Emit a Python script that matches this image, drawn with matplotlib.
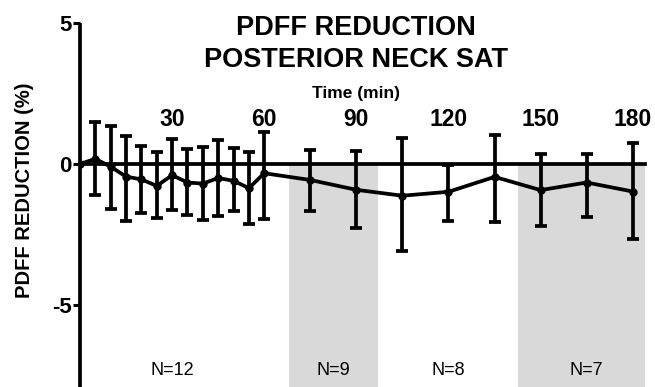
import numpy as np
import matplotlib
matplotlib.use("Agg")
import matplotlib.pyplot as plt

plt.rcParams['font.family'] = ['Liberation Sans', 'DejaVu Sans']

# time points (min) and PDFF reduction (%)
times = [0, 5, 10, 15, 20, 25, 30, 35, 40, 45, 50, 55, 60,
         75, 90, 105, 120, 135, 150, 165, 180]
mean = [0.0, 0.18, -0.10, -0.45, -0.55, -0.78, -0.40, -0.66, -0.70, -0.50, -0.60, -0.86, -0.33,
        -0.57, -0.92, -1.13, -0.99, -0.46, -0.93, -0.66, -0.98]
upper = [0.0, 1.50, 1.35, 0.99, 0.64, 0.43, 0.87, 0.52, 0.60, 0.84, 0.56, 0.44, 1.15,
         0.48, 0.46, 0.91, -0.03, 1.03, 0.37, 0.37, 0.73]
lower = [0.0, -1.11, -1.60, -2.02, -1.75, -1.93, -1.64, -1.82, -2.00, -1.84, -1.69, -2.12, -1.97,
         -1.67, -2.28, -3.11, -2.02, -2.08, -2.20, -1.87, -2.68]

# shaded time windows and group sizes
shade_spans = [(68, 97), (142.5, 184)]
n_labels = ["N=12", "N=9", "N=8", "N=7"]
n_pos = [30, 82.5, 120, 165]

xticks = [30, 60, 90, 120, 150, 180]
yticks = [5, 0, -5]

t = np.array(times); m = np.array(mean)
up = np.array(upper); lo = np.array(lower)

fig = plt.figure(figsize=(6.55, 3.87), dpi=100)
ax = fig.add_axes([80 / 655, 0, 565 / 655, 1 - 23.3 / 387])
ax.set_xlim(0, 184)
ax.set_ylim(-7.93, 5)

for a, b in shade_spans:
    ax.axvspan(a, b, ymin=0, ymax=7.93 / 12.93, color="#d9d9d9", lw=0, zorder=0)

lw = 2.7
ax.errorbar(t[1:], m[1:], yerr=[m[1:] - lo[1:], up[1:] - m[1:]], fmt="none",
            ecolor="black", elinewidth=lw, capsize=4.5, capthick=lw, zorder=3)
ax.plot(t, m, color="black", lw=lw, marker="o", ms=5, solid_joinstyle="round", zorder=4)

for lab, x in zip(n_labels, n_pos):
    ax.text(x, -7.33, lab, ha="center", va="center", fontsize=13)

for s in ["top", "right"]:
    ax.spines[s].set_visible(False)
ax.spines["bottom"].set_position(("data", 0))
ax.spines["bottom"].set_linewidth(lw)
ax.spines["left"].set_linewidth(lw)
ax.spines["left"].set_capstyle("butt")

ax.set_xticks(xticks)
ax.set_xticklabels([str(v) for v in xticks], fontsize=16.5, fontweight="bold")
ax.tick_params(axis="x", length=0, pad=-40)
ax.set_yticks(yticks)
ax.set_yticklabels(["5", "0", "-5"], fontsize=16, fontweight="bold")
ax.tick_params(axis="y", length=5, width=2.2, pad=1)

ax.text(90, 2.35, "Time (min)", ha="center", va="baseline", fontsize=12.5, fontweight="bold")
fig.text(356 / 655, 1 - 35 / 387, "PDFF REDUCTION", ha="center", va="baseline",
         fontsize=19.5, fontweight="bold")
fig.text(356 / 655, 1 - 67 / 387, "POSTERIOR NECK SAT", ha="center", va="baseline",
         fontsize=19.5, fontweight="bold")
fig.text(25 / 655, 1 - 190 / 387, "PDFF REDUCTION (%)", rotation=90, ha="center", va="center",
         fontsize=14.5, fontweight="bold")

fig.savefig("out.png", dpi=100)
